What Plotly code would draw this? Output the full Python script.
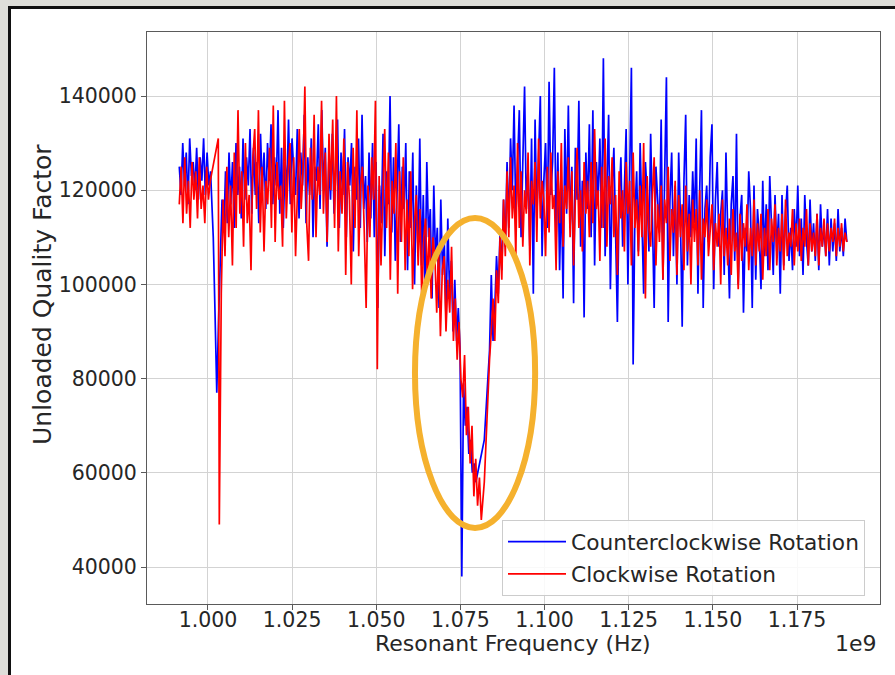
import numpy as np
import plotly.graph_objects as go

# ---------------- data (frequency in units of 1e9 Hz, Q in thousands) ----------------
ccw_seg_a_range = (0.99147, 1.00128)
ccw_seg_a = [125, 119, 130, 121, 128, 117, 131, 123, 126, 120,
             129, 118, 127, 122, 131, 119, 128, 121, 124, 116]

ccw_seg_b_range = (1.00157, 1.07957)
ccw_seg_b = [110, 94, 77, 92, 108, 118, 111, 124, 113, 128,
             117, 126, 112, 130, 119, 125, 114, 131, 118, 127,
             121, 133, 115, 129, 119, 126, 113, 132, 120, 128,
             116, 130, 122, 134, 117, 127, 121, 137, 115, 129,
             112, 126, 120, 135, 117, 131, 124, 119, 133, 114,
             128, 121, 136, 113, 127, 119, 131, 110, 125, 122,
             134, 116, 137, 120, 129, 108, 126, 118, 132, 115,
             124, 135, 112, 128, 119, 133, 110, 127, 121, 130,
             107, 125, 118, 131, 112, 136, 116, 123, 109, 128,
             114, 130, 110, 126, 95, 121, 113, 132, 106, 124,
             117, 140, 111, 127, 105, 122, 134, 109, 125, 116,
             130, 103, 124, 112, 128, 100, 121, 107, 131, 104,
             119, 99, 126, 110, 116, 97, 121, 105, 112, 95,
             118, 102, 109, 92, 114, 98, 105, 90, 101, 88,
             95, 86, 38, 79, 70, 74, 64, 67, 60, 62,
             58]

ccw_seg_d_range = (1.08209, 1.18980)
ccw_seg_d = [67, 74, 80, 86, 102, 88, 95, 106, 98, 111,
             103, 118, 108, 126, 112, 131, 120, 138, 114, 124,
             137, 110, 128, 142, 116, 125, 108, 131, 98, 135,
             114, 127, 140, 106, 122, 130, 112, 143, 119, 126,
             146, 109, 128, 103, 121, 97, 133, 115, 138, 112,
             125, 96, 129, 118, 139, 108, 122, 93, 128, 116,
             134, 110, 137, 104, 126, 118, 131, 112, 148, 106,
             124, 136, 99, 120, 129, 113, 92, 118, 127, 108,
             121, 133, 100, 125, 146, 83, 115, 124, 107, 130,
             112, 98, 126, 119, 107, 132, 114, 95, 125, 117,
             111, 135, 101, 123, 144, 92, 118, 128, 106, 121,
             100, 128, 114, 91, 122, 136, 104, 119, 110, 124,
             113, 131, 98, 120, 137, 95, 116, 121, 109, 127,
             134, 99, 118, 126, 108, 115, 120, 102, 128, 111,
             97, 117, 123, 105, 132, 100, 114, 119, 94, 112,
             107, 124, 116, 95, 121, 101, 116, 110, 99, 122,
             106, 117, 103, 123, 110, 102, 119, 107, 115, 98,
             119, 104, 115, 121, 105, 112, 103, 116, 108, 121,
             106, 114, 102, 119, 109, 104, 118, 107, 113, 105,
             115, 103, 117, 108, 112, 106, 116, 104, 114, 107,
             113, 105, 116, 107, 112, 106, 114, 109]

cw_seg_a_range = (0.99147, 1.00068)
cw_seg_a = [117, 125, 113, 127, 115, 122, 112, 126, 118, 124,
            114, 127, 116, 121, 113, 125, 118, 122]

cw_seg_b_freq = [1.00306, 1.00336]
cw_seg_b = [131, 49]

cw_seg_c_range = (1.00395, 1.08120)
cw_seg_c = [98, 118, 106, 125, 110, 121, 104, 128, 112, 137,
            115, 124, 108, 130, 113, 119, 103, 127, 133, 116,
            137, 111, 125, 107, 122, 117, 129, 112, 138, 109,
            126, 118, 121, 108, 139, 114, 124, 130, 111, 127,
            106, 120, 133, 116, 124, 142, 113, 105, 129, 118,
            136, 110, 125, 119, 139, 115, 128, 109, 132, 120,
            135, 112, 140, 107, 124, 115, 131, 102, 126, 118,
            100, 129, 112, 137, 106, 121, 125, 111, 95, 121,
            110, 127, 118, 139, 82, 123, 104, 119, 133, 112,
            128, 101, 122, 115, 130, 98, 124, 109, 127, 103,
            118, 106, 124, 99, 113, 119, 104, 116, 96, 110,
            114, 100, 112, 97, 110, 106, 94, 108, 89, 103,
            106, 90, 101, 94, 108, 88, 97, 84, 92, 80,
            76, 85, 68, 74, 62, 70, 55, 63, 53, 59,
            50]

cw_seg_d_range = (1.08209, 1.18980)
cw_seg_d = [58, 68, 76, 84, 90, 97, 88, 103, 96, 110,
            101, 118, 106, 124, 110, 127, 114, 121, 106, 130,
            112, 124, 108, 120, 115, 128, 104, 122, 117, 126,
            109, 131, 114, 122, 118, 106, 125, 111, 128, 116,
            119, 103, 124, 113, 130, 108, 121, 116, 127, 110,
            124, 104, 118, 129, 112, 120, 107, 126, 115, 122,
            110, 126, 113, 133, 116, 120, 105, 125, 112, 131,
            108, 123, 117, 127, 110, 119, 102, 124, 114, 120,
            107, 126, 115, 122, 104, 128, 112, 118, 106, 121,
            110, 130, 97, 123, 112, 108, 119, 127, 104, 117,
            109, 121, 101, 118, 113, 125, 105, 116, 111, 122,
            102, 119, 110, 117, 103, 121, 107, 115, 100, 118,
            109, 116, 104, 120, 101, 114, 110, 118, 106, 112,
            117, 103, 113, 108, 115, 100, 118, 106, 112, 104,
            114, 102, 116, 107, 111, 99, 115, 105, 113, 108,
            117, 103, 112, 106, 118, 104, 113, 107, 115, 101,
            112, 106, 116, 103, 114, 109, 117, 104, 112, 107,
            115, 103, 118, 106, 111, 108, 116, 104, 113, 107,
            114, 105, 112, 108, 116, 104, 113, 107, 111, 106,
            115, 104, 112, 108, 114, 106, 113, 107, 112, 109,
            114, 106, 112, 108, 113, 107, 111, 109]

series_names = ["Counterclockwise Rotation", "Clockwise Rotation"]
x_title = "Resonant Frequency (Hz)"
y_title = "Unloaded Quality Factor"
x_offset_label = "1e9"
x_ticks = [1.000, 1.025, 1.050, 1.075, 1.100, 1.125, 1.150, 1.175]
y_ticks = [40000, 60000, 80000, 100000, 120000, 140000]

# highlighted dip region (ellipse bounds, data units)
dip_box = dict(f0=1.0615, f1=1.0972, q0=48300, q1=114100)


def seg(rng, vals):
    return list(np.linspace(rng[0], rng[1], len(vals))), vals


ccw_f, ccw_q = [], []
for rng, vals in [(ccw_seg_a_range, ccw_seg_a), (ccw_seg_b_range, ccw_seg_b), (ccw_seg_d_range, ccw_seg_d)]:
    f, q = seg(rng, vals)
    ccw_f += f
    ccw_q += q

cw_f, cw_q = [], []
f, q = seg(cw_seg_a_range, cw_seg_a); cw_f += f; cw_q += q
cw_f += cw_seg_b_freq; cw_q += cw_seg_b
f, q = seg(cw_seg_c_range, cw_seg_c); cw_f += f; cw_q += q
f, q = seg(cw_seg_d_range, cw_seg_d); cw_f += f; cw_q += q

ccw_q = [v * 1000 for v in ccw_q]
cw_q = [v * 1000 for v in cw_q]

# ---------------- layout geometry ----------------
W, H = 895, 675
L, R, T, B = 147, 880, 32, 604
FONT = "DejaVu Sans"
TXT = "#262626"


def px(xp):
    return (xp - L) / (R - L)


def py(yp):
    return 1 - (yp - T) / (B - T)


fig = go.Figure()
fig.add_trace(go.Scatter(x=ccw_f, y=ccw_q, mode="lines", name=series_names[0],
                         legendgroup="a",
                         line=dict(color="#0000ff", width=1.7)))
fig.add_trace(go.Scatter(x=cw_f, y=cw_q, mode="lines", name=series_names[1],
                         legendgroup="b",
                         line=dict(color="#ff0000", width=1.7)))

shapes = [
    # white card with black frame on grey page
    dict(type="rect", xref="paper", yref="paper", x0=px(9.5), x1=px(905), y0=py(7.5), y1=py(690),
         line=dict(color="#111111", width=3), fillcolor="white", layer="below"),
    # highlight ellipse
    dict(type="circle", xref="x", yref="y", x0=dip_box["f0"], x1=dip_box["f1"],
         y0=dip_box["q0"], y1=dip_box["q1"], line=dict(color="#F5B12E", width=6), layer="above"),
]

annotations = [
    dict(text=x_title, xref="paper", yref="paper", x=px(512.5), y=py(643), showarrow=False,
         font=dict(family=FONT, size=22, color=TXT), xanchor="center", yanchor="middle"),
    dict(text=y_title, xref="paper", yref="paper", x=px(42), y=py(295), showarrow=False, textangle=-90,
         font=dict(family=FONT, size=25, color=TXT), xanchor="center", yanchor="middle"),
    dict(text=x_offset_label, xref="paper", yref="paper", x=px(879), y=py(643), showarrow=False,
         font=dict(family=FONT, size=22, color=TXT), xanchor="right", yanchor="middle"),
]

axis_common = dict(showgrid=True, gridcolor="#d3d3d3", gridwidth=1, zeroline=False,
                   showline=True, linecolor="#5a5a5a", linewidth=1, mirror=True,
                   ticks="outside", ticklen=5, tickcolor="#5a5a5a",
                   tickfont=dict(family=FONT, size=20.5, color=TXT))

fig.update_layout(
    width=W, height=H, autosize=False,
    margin=dict(l=L, r=W - R, t=T, b=H - B, pad=0),
    paper_bgcolor="#deded9", plot_bgcolor="rgba(0,0,0,0)",
    font=dict(family=FONT, color=TXT),
    shapes=shapes, annotations=annotations,
    xaxis=dict(range=[0.98188, 1.19966], tickvals=x_ticks, tickformat=".3f",
               ticklabelstandoff=-8, **axis_common),
    yaxis=dict(range=[32145, 153590], tickvals=y_ticks, tickformat="d", **axis_common),
    legend=dict(x=px(502), y=py(520), xanchor="left", yanchor="top",
                bgcolor="rgba(255,255,255,0.85)", bordercolor="#cccccc", borderwidth=1,
                font=dict(family=FONT, size=21.7, color=TXT), tracegroupgap=1,
                itemwidth=58),
    showlegend=True,
)

fig.write_html("out.html")
